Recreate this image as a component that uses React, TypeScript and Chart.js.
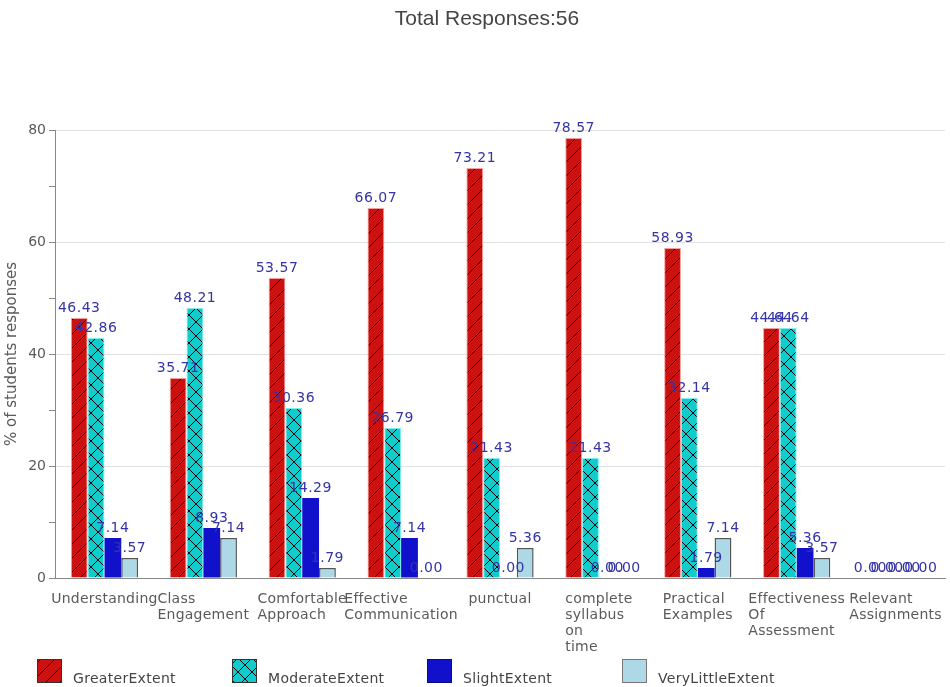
import React, { useEffect, useRef } from 'react';
import { Chart, registerables } from 'chart.js';
Chart.register(...registerables);

const chartTitle = 'Total Responses:56';
const yAxisTitle = '% of students responses';
const categories: string[][] = [
  ['Understanding'],
  ['Class', 'Engagement'],
  ['Comfortable', 'Approach'],
  ['Effective', 'Communication'],
  ['punctual'],
  ['complete', 'syllabus', 'on', 'time'],
  ['Practical', 'Examples'],
  ['Effectiveness', 'Of', 'Assessment'],
  ['Relevant', 'Assignments'],
];
const seriesNames = ['GreaterExtent', 'ModerateExtent', 'SlightExtent', 'VeryLittleExtent'];
const greaterExtent = [46.43, 35.71, 53.57, 66.07, 73.21, 78.57, 58.93, 44.64, 0];
const moderateExtent = [42.86, 48.21, 30.36, 26.79, 21.43, 21.43, 32.14, 44.64, 0];
const slightExtent = [7.14, 8.93, 14.29, 7.14, 0, 0, 1.79, 5.36, 0];
const veryLittleExtent = [3.57, 7.14, 1.79, 0, 5.36, 0, 7.14, 3.57, 0];
const yMin = 0;
const yMax = 80;
const yMajorStep = 20;
const yMinorStep = 10;

function makePattern(color: string, kind: 'diag' | 'cross', s: number): CanvasPattern | string {
  const c = document.createElement('canvas');
  c.width = s;
  c.height = s;
  const g = c.getContext('2d');
  if (!g) return color;
  g.fillStyle = color;
  g.fillRect(0, 0, s, s);
  g.strokeStyle = '#1a0000';
  g.lineWidth = 1;
  g.beginPath();
  g.moveTo(-1, s + 1);
  g.lineTo(s + 1, -1);
  if (kind === 'cross') {
    g.moveTo(-1, -1);
    g.lineTo(s + 1, s + 1);
  }
  g.stroke();
  const p = g.createPattern(c, 'repeat');
  return p || color;
}

const drawPlugin = {
  id: 'customDraw',
  afterDatasetsDraw(chart: any) {
    const ctx = chart.ctx as any;
    ctx.save();
    // data labels
    ctx.font = '14px "DejaVu Sans"';
    ctx.letterSpacing = '0.5px';
    ctx.fillStyle = '#3434a6';
    ctx.textAlign = 'center';
    ctx.textBaseline = 'alphabetic';
    chart.data.datasets.forEach((ds: any, di: number) => {
      const meta = chart.getDatasetMeta(di);
      meta.data.forEach((el: any, i: number) => {
        const v = ds.data[i] as number;
        ctx.fillText(v.toFixed(2), el.x, el.y - 6);
      });
    });
    // x category labels (block centred, lines left aligned)
    const xs = chart.scales.x;
    ctx.font = '14px "DejaVu Sans"';
    ctx.letterSpacing = '0.25px';
    ctx.fillStyle = '#5a5a5a';
    ctx.textAlign = 'left';
    categories.forEach((lines, i) => {
      const cx = xs.getPixelForValue(i);
      const w = Math.max(...lines.map((l) => ctx.measureText(l).width));
      lines.forEach((l, j) => ctx.fillText(l, cx - w / 2, xs.top + 25 + j * 16));
    });
    // legend
    const legendY = 659;
    ctx.letterSpacing = '0.3px';
    chart.data.datasets.forEach((ds: any, di: number) => {
      const x = 37 + di * 195;
      ctx.fillStyle = ds.backgroundColor;
      ctx.fillRect(x, legendY, 25, 24);
      ctx.strokeStyle = ds.legendBorder;
      ctx.lineWidth = 1;
      ctx.strokeRect(x + 0.5, legendY + 0.5, 24, 23);
      ctx.fillStyle = '#444';
      ctx.font = '14px "DejaVu Sans"';
      ctx.textAlign = 'left';
      ctx.fillText(ds.label, x + 36, legendY + 24);
    });
    // title
    ctx.letterSpacing = '0px';
    ctx.font = '21px "Liberation Sans"';
    ctx.fillStyle = '#444';
    ctx.textAlign = 'center';
    ctx.fillText(chartTitle, 487, 25);
    ctx.restore();
  },
};

export default function App() {
  const ref = useRef<HTMLCanvasElement | null>(null);
  useEffect(() => {
    if (!ref.current) return;
    const red = makePattern('#cc1111', 'diag', 14);
    const teal = makePattern('#11cccc', 'cross', 14);
    const zeroNone = (w: number) => (c: any) => (c.raw === 0 ? 0 : w);
    const chart = new Chart(ref.current, {
      type: 'bar',
      data: {
        labels: categories,
        datasets: [
          { label: seriesNames[0], data: greaterExtent, backgroundColor: red as any, borderColor: '#f4a0a0', borderWidth: zeroNone(1) as any, legendBorder: '#333' } as any,
          { label: seriesNames[1], data: moderateExtent, backgroundColor: teal as any, borderColor: '#7eeeee', borderWidth: zeroNone(1) as any, legendBorder: '#333' } as any,
          { label: seriesNames[2], data: slightExtent, backgroundColor: '#1111cc', borderWidth: 0, legendBorder: '#0a0a88' } as any,
          { label: seriesNames[3], data: veryLittleExtent, backgroundColor: '#add8e6', borderColor: '#555', borderWidth: zeroNone(1.5) as any, legendBorder: '#777' } as any,
        ],
      },
      options: {
        animation: false,
        responsive: false,
        layout: { padding: { top: 130, right: 5, left: 0, bottom: 0 } },
        datasets: { bar: { categoryPercentage: 0.68, barPercentage: 1 } },
        plugins: {
          legend: { display: false },
          title: { display: false },
          tooltip: { enabled: false },
        },
        scales: {
          x: {
            grid: { display: false },
            border: { display: true, color: '#888', width: 1 },
            ticks: { display: false },
            afterFit: (s: any) => { s.height = 109; },
          },
          y: {
            min: yMin,
            max: yMax,
            ticks: {
              stepSize: yMinorStep,
              color: '#5a5a5a',
              font: { family: '"DejaVu Sans"', size: 14 },
              padding: 3,
              callback: (v: any) => (Number(v) % yMajorStep === 0 ? String(v) : ''),
            },
            grid: {
              color: (c: any) => (c.tick && c.tick.value % yMajorStep === 0 ? '#e2e2e2' : 'rgba(0,0,0,0)'),
              tickColor: '#888',
              tickLength: 6,
            },
            border: { display: true, color: '#888', width: 1 },
            title: {
              display: true,
              text: yAxisTitle,
              color: '#5a5a5a',
              font: { family: '"DejaVu Sans"', size: 15 },
              padding: { top: 3, bottom: 0 },
            },
            afterFit: (s: any) => { s.width = 55; },
          },
        },
      },
      plugins: [drawPlugin],
    });
    return () => chart.destroy();
  }, []);
  return (
    <div style={{ position: 'fixed', left: 0, top: 0, width: 950, height: 687, background: '#fff' }}>
      <canvas ref={ref} width={950} height={687} />
    </div>
  );
}
